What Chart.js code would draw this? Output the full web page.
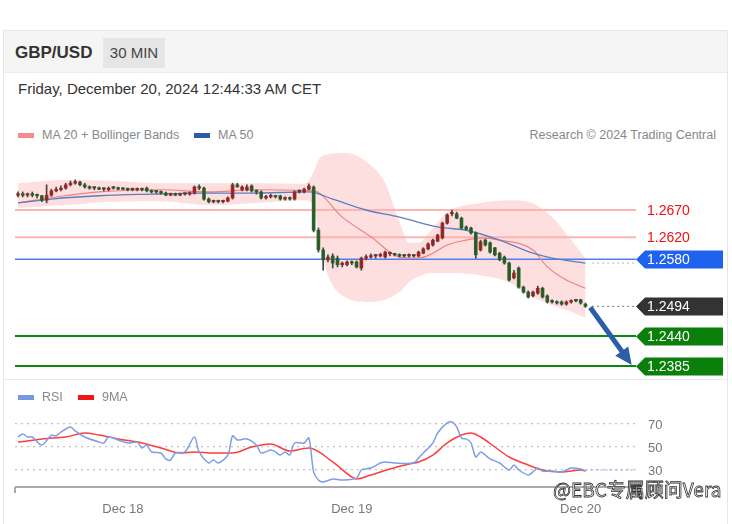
<!DOCTYPE html>
<html>
<head>
<meta charset="utf-8">
<script src="https://cdn.jsdelivr.net/npm/chart.js@4.4.1/dist/chart.umd.min.js"></script>
<style>
  body { margin: 0; width: 732px; height: 524px; background: #fff; position: relative; overflow: hidden;
         font-family: "Liberation Sans", Arial, sans-serif; }
  .abs { position: absolute; }
  .card { left: 3px; top: 30px; width: 723px; height: 500px; border: 1px solid #e6e6e6; }
  .head { left: 4px; top: 31px; width: 723px; height: 41px; background: #f5f5f5; border-bottom: 1px solid #ececec; }
  .sym { left: 15px; top: 43px; font-size: 17px; line-height: 20px; font-weight: bold; color: #333; }
  .tf { left: 103px; top: 38px; width: 62px; height: 30px; line-height: 30px; background: #e6e6e6; color: #444;
        font-size: 15px; text-align: center; }
  .date { left: 18px; top: 80px; font-size: 15px; line-height: 18px; color: #333; }
  .leg { font-size: 12.5px; line-height: 14px; color: #888; white-space: nowrap; }
  .sw { width: 16px; height: 5px; }
  .sep { left: 4px; top: 379px; width: 723px; height: 1px; background: #e8e8e8; }
  .wm { left: 553px; top: 476px; font-family: "Noto Sans CJK SC", sans-serif; font-size: 19px; line-height: 26px;
        color: #fff; -webkit-text-stroke: 0.8px #333; white-space: nowrap; }
  canvas { position: absolute; left: 0; }
</style>
</head>
<body>
<div class="abs card"></div>
<div class="abs head"></div>
<div class="abs sym">GBP/USD</div>
<div class="abs tf">30 MIN</div>
<div class="abs date">Friday, December 20, 2024 12:44:33 AM CET</div>

<div class="abs sw" style="left:18px;top:133px;background:#f78a8a"></div>
<div class="abs leg" style="left:42px;top:128px">MA 20 + Bollinger Bands</div>
<div class="abs sw" style="left:194px;top:133px;background:#2d5ca6"></div>
<div class="abs leg" style="left:218px;top:128px">MA 50</div>
<div class="abs leg" style="right:16px;top:128px">Research © 2024 Trading Central</div>

<canvas id="main" width="732" height="240" style="top:140px"></canvas>
<div class="abs sep"></div>

<div class="abs sw" style="left:18px;top:395px;background:#7796e6"></div>
<div class="abs leg" style="left:42px;top:390px">RSI</div>
<div class="abs sw" style="left:78px;top:395px;background:#f01818"></div>
<div class="abs leg" style="left:102px;top:390px">9MA</div>

<canvas id="rsi" width="732" height="115" style="top:405px"></canvas>
<div class="abs wm">@EBC专属顾问Vera</div>

<script>
// 30 分鐘 K 線 (Dec 17 13:00 -> Dec 20 00:30)
const opens = [
  1.2697,1.2699,1.2697,1.2699,1.2697,1.2696,1.2688,1.2697,1.2705,1.2707,
  1.2710,1.2716,1.2719,1.2721,1.2716,1.2712,1.2710,1.2710,1.2708,1.2707,
  1.2710,1.2710,1.2708,1.2708,1.2707,1.2707,1.2708,1.2710,1.2705,1.2703,
  1.2703,1.2701,1.2697,1.2699,1.2697,1.2699,1.2699,1.2701,1.2712,1.2710,
  1.2690,1.2685,1.2686,1.2685,1.2686,1.2692,1.2716,1.2707,1.2707,1.2714,
  1.2705,1.2703,1.2692,1.2694,1.2696,1.2696,1.2690,1.2692,1.2690,1.2703,
  1.2703,1.2708,1.2712,1.2633,1.2597,1.2579,1.2586,1.2582,1.2570,1.2570,
  1.2575,1.2575,1.2564,1.2582,1.2584,1.2586,1.2586,1.2584,1.2590,1.2590,
  1.2588,1.2586,1.2586,1.2586,1.2586,1.2591,1.2599,1.2606,1.2613,1.2619,
  1.2646,1.2663,1.2663,1.2655,1.2639,1.2637,1.2628,1.2597,1.2615,1.2610,
  1.2601,1.2591,1.2584,1.2573,1.2546,1.2564,1.2529,1.2520,1.2513,1.2518,
  1.2527,1.2513,1.2502,1.2502,1.2502,1.2498,1.2502,1.2504,1.2506,1.2498
];
const closes = [
  1.2699,1.2697,1.2699,1.2697,1.2696,1.2688,1.2697,1.2705,1.2707,1.2710,
  1.2716,1.2719,1.2721,1.2716,1.2712,1.2710,1.2710,1.2708,1.2708,1.2710,
  1.2710,1.2708,1.2708,1.2707,1.2707,1.2708,1.2707,1.2705,1.2703,1.2703,
  1.2701,1.2697,1.2699,1.2697,1.2699,1.2699,1.2701,1.2712,1.2710,1.2690,
  1.2685,1.2686,1.2685,1.2686,1.2692,1.2716,1.2712,1.2712,1.2712,1.2705,
  1.2703,1.2692,1.2694,1.2696,1.2694,1.2690,1.2692,1.2690,1.2703,1.2703,
  1.2708,1.2714,1.2633,1.2597,1.2579,1.2584,1.2573,1.2570,1.2573,1.2575,
  1.2573,1.2566,1.2582,1.2584,1.2586,1.2586,1.2588,1.2593,1.2591,1.2588,
  1.2586,1.2586,1.2588,1.2586,1.2593,1.2599,1.2608,1.2615,1.2624,1.2646,
  1.2661,1.2664,1.2655,1.2637,1.2635,1.2628,1.2588,1.2612,1.2606,1.2593,
  1.2588,1.2579,1.2573,1.2542,1.2555,1.2529,1.2520,1.2511,1.2520,1.2527,
  1.2511,1.2502,1.2502,1.2500,1.2498,1.2502,1.2504,1.2504,1.2500,1.2494
];
const highs = [
  1.2703,1.2703,1.2701,1.2703,1.2699,1.2697,1.2716,1.2708,1.2712,1.2714,
  1.2719,1.2723,1.2725,1.2723,1.2719,1.2714,1.2712,1.2712,1.2710,1.2712,
  1.2712,1.2712,1.2710,1.2710,1.2710,1.2710,1.2710,1.2712,1.2707,1.2705,
  1.2705,1.2703,1.2701,1.2701,1.2701,1.2701,1.2703,1.2714,1.2716,1.2712,
  1.2692,1.2688,1.2688,1.2688,1.2694,1.2719,1.2719,1.2714,1.2716,1.2716,
  1.2707,1.2705,1.2697,1.2699,1.2697,1.2697,1.2694,1.2694,1.2705,1.2707,
  1.2710,1.2718,1.2714,1.2637,1.2601,1.2588,1.2590,1.2586,1.2575,1.2577,
  1.2577,1.2577,1.2584,1.2588,1.2590,1.2588,1.2591,1.2595,1.2593,1.2591,
  1.2590,1.2588,1.2590,1.2588,1.2595,1.2601,1.2610,1.2617,1.2626,1.2648,
  1.2663,1.2670,1.2666,1.2657,1.2641,1.2639,1.2630,1.2615,1.2617,1.2612,
  1.2602,1.2593,1.2586,1.2575,1.2560,1.2566,1.2531,1.2522,1.2522,1.2531,
  1.2529,1.2515,1.2506,1.2504,1.2504,1.2504,1.2506,1.2507,1.2507,1.2500
];
const lows = [
  1.2694,1.2694,1.2694,1.2694,1.2692,1.2685,1.2683,1.2695,1.2703,1.2705,
  1.2708,1.2714,1.2717,1.2714,1.2710,1.2708,1.2707,1.2707,1.2705,1.2705,
  1.2708,1.2707,1.2707,1.2705,1.2705,1.2705,1.2705,1.2703,1.2701,1.2701,
  1.2699,1.2696,1.2696,1.2696,1.2696,1.2697,1.2697,1.2699,1.2707,1.2688,
  1.2683,1.2683,1.2683,1.2683,1.2685,1.2690,1.2712,1.2705,1.2705,1.2703,
  1.2699,1.2690,1.2690,1.2692,1.2692,1.2688,1.2688,1.2688,1.2688,1.2701,
  1.2701,1.2707,1.2630,1.2593,1.2560,1.2575,1.2564,1.2566,1.2566,1.2568,
  1.2570,1.2564,1.2560,1.2579,1.2582,1.2582,1.2584,1.2582,1.2586,1.2586,
  1.2584,1.2584,1.2584,1.2584,1.2584,1.2590,1.2597,1.2604,1.2612,1.2617,
  1.2644,1.2659,1.2654,1.2635,1.2633,1.2626,1.2582,1.2595,1.2604,1.2591,
  1.2586,1.2577,1.2571,1.2540,1.2544,1.2527,1.2518,1.2509,1.2511,1.2516,
  1.2509,1.2500,1.2500,1.2498,1.2496,1.2496,1.2500,1.2502,1.2498,1.2492
];

// 均線 (K 線索引, 價格)
const ma20Idx = [0, 10, 17, 30, 40, 50, 62, 68, 74, 80, 84, 87, 90, 94, 97, 101, 108, 111, 115, 119];
const ma20 = [1.2683, 1.2696, 1.2703, 1.2707, 1.2703, 1.2707, 1.2705, 1.2657, 1.2621, 1.2584,
              1.2582, 1.2591, 1.2606, 1.2615, 1.2619, 1.2615, 1.2597, 1.2566, 1.2542, 1.2527];
const ma50Idx = [0, 7, 17, 28, 38, 49, 61, 66, 73, 80, 88, 94, 101, 108, 112, 119];
const ma50 = [1.2683, 1.2690, 1.2696, 1.2699, 1.2701, 1.2701, 1.2703, 1.2690, 1.2670, 1.2657,
              1.2639, 1.2633, 1.2615, 1.2591, 1.2582, 1.2573];

// 布林通道
const bbIdx = [0, 10, 20, 30, 40, 50, 60, 62, 63, 65, 69, 73, 77, 80, 82, 84, 87, 90, 97, 103, 107, 112, 116, 119];
const bbUpper = [1.2719, 1.2725, 1.2723, 1.2719, 1.2719, 1.2719, 1.2718, 1.2739, 1.2761, 1.2772, 1.2774, 1.2758,
                 1.2719, 1.2648, 1.2610, 1.2610, 1.2637, 1.2666, 1.2683, 1.2688, 1.2685, 1.2657, 1.2615, 1.2582];
const bbLower = [1.2674, 1.2679, 1.2685, 1.2686, 1.2679, 1.2683, 1.2688, 1.2679, 1.2624, 1.2551, 1.2509, 1.2502,
                 1.2506, 1.2520, 1.2538, 1.2549, 1.2555, 1.2555, 1.2551, 1.2538, 1.2515, 1.2496, 1.2484, 1.2473];

// 支撐 / 阻力
const levels = [1.2670, 1.2620, 1.2580, 1.2494, 1.2440, 1.2385];
const levelLabels = ['1.2670', '1.2620', '1.2580', '1.2494', '1.2440', '1.2385'];
const arrowFrom = [120, 1.2492];
const arrowTo = [128.7, 1.2387];

// RSI
const rsiIdx = [0,1,2,3,5,7,8,9,11,12,14,17,18,19,21,23,25,26,27,28,30,31,32,33,35,37,38,40,41,42,
  44,45,46,48,50,51,53,54,55,56,57,58,60,61,62,63,64,66,68,71,72,74,76,77,79,83,84,85,87,88,
  90,91,92,93,94,95,96,97,98,99,101,103,104,105,107,108,109,110,112,114,115,116,118,119];
const rsiVal = [58.7,61.3,58.7,58.7,51.7,60.4,59.6,63.0,67.4,63.9,58.7,54.3,53.5,58.7,56.1,53.5,54.3,49.1,51.7,45.7,
  44.8,39.6,38.7,44.8,45.7,58.7,45.7,36.1,38.7,36.1,43.0,59.6,56.1,57.0,51.7,44.8,47.4,45.7,43.0,45.7,
  43.0,53.5,53.5,57.8,28.3,21.3,19.6,22.2,21.3,23.0,30.0,31.7,36.1,37.0,36.1,36.1,40.4,44.8,53.5,62.2,
  70.9,71.7,67.4,57.8,57.0,53.5,41.3,45.7,43.0,39.6,36.1,30.0,34.3,30.0,25.7,28.3,31.7,29.1,29.1,28.3,
  30.0,31.7,30.9,29.1];
const ma9Idx = [0,7,10,14,17,21,26,30,34,37,41,45,49,53,57,61,66,70,71,74,78,82,84,87,90,93,95,97,100,103,107,110,114,118,119];
const ma9Val = [54.3,57.8,58.7,62.2,60.4,57.0,53.5,49.1,44.8,45.7,44.8,44.8,50.0,52.6,46.5,49.1,37.0,23.9,22.2,25.7,
  30.9,35.2,37.0,43.0,53.5,60.4,62.2,58.7,50.0,41.3,34.3,30.0,28.3,30.0,29.1];
const rsiTicks = [30, 50, 70];

const dayIdx = [22, 70, 118];
const dayLabels = ['Dec 18', 'Dec 19', 'Dec 20'];

// 版面
const xMin = -0.63, xMax = 129.6;
const yMin = 1.23594, yMax = 1.27979;
const rsiMin = 15.22, rsiMax = 86.52;
const UP = '#e3140f', DOWN = '#187a18';

const pts = (idx, vals) => idx.map((v, k) => ({ x: v, y: vals[k] }));
const candleIdx = closes.map((_, i) => i);

const levelStyle = [
  { line: '#ffb3b3', w: 2, text: '#f01010' },
  { line: '#ffb3b3', w: 2, text: '#f01010' },
  { line: '#4f7ff0', w: 1.5, tag: '#1f62f0' },
  { line: '#777', w: 1, dash: [2, 3], from: 120.4, tag: '#333333' },
  { line: '#0d870d', w: 2, tag: '#0a7f0a' },
  { line: '#0d870d', w: 2, tag: '#0a7f0a' }
];

const levelSets = levels.map((lv, k) => ({
  type: 'line',
  data: [{ x: levelStyle[k].from ?? xMin, y: lv }, { x: xMax, y: lv }],
  borderColor: levelStyle[k].line,
  borderWidth: levelStyle[k].w,
  borderDash: levelStyle[k].dash || [],
  pointRadius: 0,
  order: 3
}));

const levelPlugin = {
  id: 'levels',
  afterDatasetsDraw(chart) {
    const { ctx, scales: { x, y } } = chart;
    ctx.save();
    // 箭頭
    const x1 = x.getPixelForValue(arrowFrom[0]), y1 = y.getPixelForValue(arrowFrom[1]);
    const x2 = x.getPixelForValue(arrowTo[0]), y2 = y.getPixelForValue(arrowTo[1]);
    const a = Math.atan2(y2 - y1, x2 - x1), c = Math.cos(a), s = Math.sin(a);
    ctx.strokeStyle = ctx.fillStyle = '#2c5ea8';
    ctx.lineWidth = 5;
    ctx.beginPath();
    ctx.moveTo(x1, y1);
    ctx.lineTo(x2 - 14 * c, y2 - 14 * s);
    ctx.stroke();
    ctx.beginPath();
    ctx.moveTo(x2, y2);
    ctx.lineTo(x2 - 17 * c + 8 * s, y2 - 17 * s - 8 * c);
    ctx.lineTo(x2 - 17 * c - 8 * s, y2 - 17 * s + 8 * c);
    ctx.closePath();
    ctx.fill();
    // 標籤
    ctx.font = '14px "Liberation Sans", Arial, sans-serif';
    ctx.textBaseline = 'middle';
    levels.forEach((lv, k) => {
      const yc = Math.round(y.getPixelForValue(lv)) + 0.5;
      const st = levelStyle[k];
      if (st.tag) {
        ctx.fillStyle = st.tag;
        ctx.beginPath();
        ctx.moveTo(636, yc);
        ctx.lineTo(645, yc - 9);
        ctx.lineTo(723, yc - 9);
        ctx.lineTo(723, yc + 9);
        ctx.lineTo(645, yc + 9);
        ctx.closePath();
        ctx.fill();
        ctx.fillStyle = '#fff';
      } else {
        ctx.fillStyle = st.text;
      }
      ctx.fillText(levelLabels[k], 647, yc + 1);
    });
    ctx.restore();
  }
};

new Chart(document.getElementById('main'), {
  type: 'bar',
  data: {
    datasets: [
      { type: 'line', data: pts(bbIdx, bbUpper), fill: '+1', backgroundColor: 'rgba(252,196,196,0.55)',
        borderWidth: 0, borderColor: 'transparent', pointRadius: 0, cubicInterpolationMode: 'monotone', order: 5 },
      { type: 'line', data: pts(bbIdx, bbLower), fill: false,
        borderWidth: 0, borderColor: 'transparent', pointRadius: 0, cubicInterpolationMode: 'monotone', order: 5 },
      ...levelSets,
      { type: 'line', data: [{ x: 120.4, y: ma50[ma50.length - 1] }, { x: xMax, y: ma50[ma50.length - 1] }],
        borderColor: '#a9b8d6', borderWidth: 1, borderDash: [2, 3], pointRadius: 0, order: 3 },
      { type: 'line', data: pts(ma50Idx, ma50), borderColor: '#5b7fc2', borderWidth: 1.3,
        pointRadius: 0, cubicInterpolationMode: 'monotone', order: 1 },
      { type: 'line', data: pts(ma20Idx, ma20), borderColor: '#f08282', borderWidth: 1.2,
        pointRadius: 0, cubicInterpolationMode: 'monotone', order: 1 },
      { data: candleIdx.map(i => ({ x: i, y: [lows[i], highs[i]] })), backgroundColor: '#444',
        barThickness: 1, grouped: false, order: 0 },
      { data: candleIdx.map(i => ({ x: i, y: [opens[i], closes[i]] })),
        backgroundColor: c => closes[c.dataIndex] > opens[c.dataIndex] ? UP
                            : closes[c.dataIndex] < opens[c.dataIndex] ? DOWN : '#444',
        barThickness: 3, minBarLength: 1.5, grouped: false, order: 0 }
    ]
  },
  options: {
    responsive: false, animation: false, devicePixelRatio: 1,
    layout: { padding: { left: 15, right: 96, top: 0, bottom: 0 } },
    plugins: { legend: { display: false }, tooltip: { enabled: false } },
    scales: {
      x: { type: 'linear', min: xMin, max: xMax, display: false, offset: false },
      y: { min: yMin, max: yMax, display: false }
    }
  },
  plugins: [levelPlugin]
});

const rsiPlugin = {
  id: 'rsiAxis',
  afterDraw(chart) {
    const { ctx, chartArea, scales: { y } } = chart;
    ctx.save();
    ctx.strokeStyle = '#aaa';
    ctx.lineWidth = 2;
    ctx.beginPath();
    ctx.moveTo(chartArea.left, chartArea.bottom);
    ctx.lineTo(chartArea.right, chartArea.bottom);
    ctx.moveTo(chartArea.left, chartArea.bottom);
    ctx.lineTo(chartArea.left, chartArea.bottom + 6);
    ctx.stroke();
    ctx.fillStyle = '#777';
    ctx.font = '13px "Liberation Sans", Arial, sans-serif';
    ctx.textBaseline = 'middle';
    rsiTicks.forEach(v => ctx.fillText(String(v), 648, y.getPixelForValue(v) + 1));
    ctx.restore();
  }
};

new Chart(document.getElementById('rsi'), {
  type: 'line',
  data: {
    datasets: [
      { data: pts(rsiIdx, rsiVal), borderColor: '#7e9de9', borderWidth: 1.5, pointRadius: 0, tension: 0.3 },
      { data: pts(ma9Idx, ma9Val), borderColor: '#ff3c3c', borderWidth: 1.5, pointRadius: 0,
        cubicInterpolationMode: 'monotone' },
      { data: [{ x: 119, y: 30 }, { x: xMax, y: 30 }], borderColor: '#8ea6ec', borderWidth: 1.2,
        borderDash: [2, 3], pointRadius: 0 }
    ]
  },
  options: {
    responsive: false, animation: false, devicePixelRatio: 1,
    layout: { padding: { left: 15, right: 96, top: 0, bottom: 0 } },
    plugins: { legend: { display: false }, tooltip: { enabled: false } },
    scales: {
      x: {
        type: 'linear', min: xMin, max: xMax,
        grid: { display: false }, border: { display: false },
        afterBuildTicks: s => { s.ticks = dayIdx.map(v => ({ value: v })); },
        afterFit: s => { s.height = 33; },
        ticks: { callback: v => dayLabels[dayIdx.indexOf(v)], color: '#777', padding: 7,
                 font: { size: 13, family: '"Liberation Sans", Arial, sans-serif' },
                 maxRotation: 0, autoSkip: false }
      },
      y: {
        min: rsiMin, max: rsiMax, position: 'right',
        afterBuildTicks: s => { s.ticks = rsiTicks.map(v => ({ value: v })); },
        afterFit: s => { s.width = 0; },
        ticks: { display: false },
        grid: { color: '#c2c2c2', lineWidth: 1.2, drawTicks: false },
        border: { display: false, dash: [2, 4] }
      }
    }
  },
  plugins: [rsiPlugin]
});
</script>
</body>
</html>
